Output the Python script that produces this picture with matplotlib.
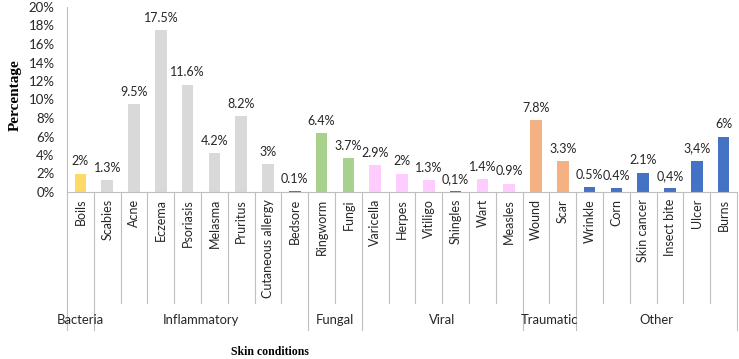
import matplotlib.pyplot as plt
import matplotlib.transforms as mtransforms
from matplotlib.ticker import PercentFormatter
import numpy as np

conditions = ["Boils", "Scabies", "Acne", "Eczema", "Psoriasis", "Melasma", "Pruritus",
              "Cutaneous allergy", "Bedsore", "Ringworm", "Fungi", "Varicella", "Herpes",
              "Vitiligo", "Shingles", "Wart", "Measles", "Wound", "Scar", "Wrinkle", "Corn",
              "Skin cancer", "Insect bite", "Ulcer", "Burns"]
values = [2, 1.3, 9.5, 17.5, 11.6, 4.2, 8.2, 3, 0.1, 6.4, 3.7, 2.9, 2, 1.3, 0.1, 1.4, 0.9,
          7.8, 3.3, 0.5, 0.4, 2.1, 0.4, 3.4, 6]
value_labels = ["2%", "1.3%", "9.5%", "17.5%", "11.6%", "4.2%", "8.2%", "3%", "0.1%", "6.4%",
                "3.7%", "2.9%", "2%", "1.3%", "0,1%", "1.4%", "0.9%", "7.8%", "3.3%", "0.5%",
                "0.4%", "2.1%", "0,4%", "3,4%", "6%"]
group_names = ["Bacteria", "Inflammatory", "Fungal", "Viral", "Traumatic", "Other"]
group_sizes = [1, 8, 2, 6, 2, 6]

yellow, gray, blue, green, pink, orange = "#FFD966", "#D9D9D9", "#4472C4", "#A9D18E", "#FFCCFF", "#F4B183"
bar_colors = [yellow] + [gray] * 7 + [blue] + [green] * 2 + [pink] * 3 + [blue] + [pink] * 2 \
    + [orange] * 2 + [blue] * 6

fig = plt.figure(figsize=(7.39, 3.59), dpi=100)
ax = fig.add_axes([67 / 739, 1 - 192 / 359, 670 / 739, 185 / 359])

x = np.arange(len(conditions))
bars = ax.bar(x, values, width=0.43, color=bar_colors)
for xi, v, lab in zip(x, values, value_labels):
    ax.annotate(lab, (xi, v), xytext=(0, 4.5), textcoords="offset points",
                ha="center", va="bottom", fontsize=9, family="Lato", color="#262626")

ax.set_xlim(-0.5, len(conditions) - 0.5)
ax.set_ylim(0, 20)
ax.set_yticks(np.arange(0, 21, 2))
ax.yaxis.set_major_formatter(PercentFormatter(decimals=0))
ax.tick_params(axis="y", length=0, pad=9, labelsize=9.5, labelcolor="#262626")
for lbl in ax.get_yticklabels():
    lbl.set_family("Lato")
ax.set_xticks(x)
ax.set_xticklabels(conditions, rotation=90, family="Lato", fontsize=9, color="#262626", va="top")
ax.tick_params(axis="x", length=0, pad=5)

for side in ["top", "right"]:
    ax.spines[side].set_visible(False)
ax.spines["left"].set_color("#BFBFBF")
ax.spines["bottom"].set_color("#BFBFBF")

# category separators below the axis
trans = mtransforms.blended_transform_factory(ax.transData, ax.transAxes)
bounds = np.cumsum([0] + group_sizes) - 0.5
for b in np.arange(-0.5, len(conditions)):
    low = -0.746 if np.isclose(bounds, b).any() else -0.6
    ax.plot([b, b], [0, low], transform=trans, color="#BFBFBF", lw=0.8, clip_on=False)

for name, start, end in zip(group_names, bounds[:-1], bounds[1:]):
    ax.text((start + end) / 2, -0.692, name, transform=trans, ha="center", va="center",
            fontsize=9.4, family="Lato", color="#262626")

fig.text(15 / 739, 1 - 95 / 359, "Percentage", rotation=90, ha="center", va="center",
         family="Liberation Serif", fontweight="bold", fontsize=11)
fig.text(270 / 739, 1 - 352 / 359, "Skin conditions", ha="center", va="center",
         family="Liberation Serif", fontweight="bold", fontsize=8.5)

fig.savefig("out.png", dpi=100)
